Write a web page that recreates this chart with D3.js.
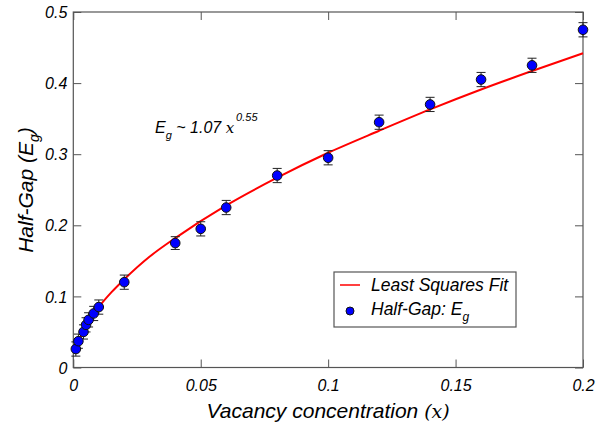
<!DOCTYPE html>
<html>
<head>
<meta charset="utf-8">
<script src="https://cdn.jsdelivr.net/npm/d3@7"></script>
<style>
  html, body { margin: 0; padding: 0; background: #fff; }
  svg { display: block; }
  text { font-family: "Liberation Sans", Arial, sans-serif; font-style: italic; fill: #000; }
</style>
</head>
<body>
<svg id="chart" width="598" height="430"></svg>
<script>
// Data
const vacancy = [0.001, 0.002, 0.004, 0.005, 0.006, 0.008, 0.010, 0.020, 0.040, 0.050, 0.060, 0.080, 0.100, 0.120, 0.140, 0.160, 0.180, 0.200];
const halfGap = [0.026, 0.037, 0.050, 0.060, 0.067, 0.076, 0.085, 0.120, 0.175, 0.195, 0.225, 0.270, 0.295, 0.345, 0.370, 0.405, 0.425, 0.475];
const errors  = [0.010, 0.010, 0.010, 0.010, 0.010, 0.010, 0.010, 0.010, 0.009, 0.010, 0.010, 0.010, 0.010, 0.010, 0.010, 0.010, 0.010, 0.010];
// Least squares fit curve
const fitX = [0.001, 0.002, 0.003, 0.005, 0.007, 0.010, 0.015, 0.020, 0.030, 0.040, 0.060, 0.080, 0.100, 0.120, 0.140, 0.160, 0.180, 0.200];
const fitY = [0.024, 0.035, 0.044, 0.058, 0.070, 0.085, 0.106, 0.124, 0.156, 0.182, 0.228, 0.267, 0.302, 0.333, 0.363, 0.391, 0.417, 0.442];
const xTicks = [0, 0.05, 0.1, 0.15, 0.2];
const xTickLabels = ["0", "0.05", "0.1", "0.15", "0.2"];
const xMinor = [0.025, 0.075, 0.125, 0.175];
const yTicks = [0, 0.1, 0.2, 0.3, 0.4, 0.5];
const yTickLabels = ["0", "0.1", "0.2", "0.3", "0.4", "0.5"];
const yMinor = [0.05, 0.15, 0.25, 0.35, 0.45];

const svg = d3.select("#chart");
const L = 73.3, R = 583, T = 12, B = 367.5;
const x = d3.scaleLinear().domain([0, 0.2]).range([L, R]);
const y = d3.scaleLinear().domain([0, 0.5]).range([B, T]);
const frame = "#555";

// Axes with inward ticks on all sides
function tickAxis(axisFn, scale, vals, len, fmt) {
  return axisFn(scale).tickValues(vals).tickSizeInner(-len).tickSizeOuter(0).tickFormat(fmt);
}
const none = () => "";
const gB = svg.append("g").attr("transform", `translate(0,${B})`);
gB.call(tickAxis(d3.axisBottom, x, xMinor, 5, none));
gB.call(tickAxis(d3.axisBottom, x, xTicks, 8, (d, i) => xTickLabels[i]));
const gT = svg.append("g").attr("transform", `translate(0,${T})`);
gT.call(tickAxis(d3.axisTop, x, xMinor, 5, none));
gT.call(tickAxis(d3.axisTop, x, xTicks, 8, none));
const gL = svg.append("g").attr("transform", `translate(${L},0)`);
gL.call(tickAxis(d3.axisLeft, y, yMinor, 5, none));
gL.call(tickAxis(d3.axisLeft, y, yTicks, 8, (d, i) => yTickLabels[i]));
const gR = svg.append("g").attr("transform", `translate(${R},0)`);
gR.call(tickAxis(d3.axisRight, y, yMinor, 5, none));
gR.call(tickAxis(d3.axisRight, y, yTicks, 8, none));

svg.selectAll(".domain").remove();
svg.selectAll(".tick line").attr("stroke", frame).attr("stroke-width", 1);
gB.selectAll(".tick text").attr("y", 12).attr("dy", "0.71em")
  .style("font-size", "16px").style("font-family", "Liberation Sans, Arial, sans-serif").style("font-style", "italic");
gL.selectAll(".tick text").attr("x", -6).attr("dy", "0.35em")
  .style("font-size", "16px").style("font-family", "Liberation Sans, Arial, sans-serif").style("font-style", "italic");

svg.append("rect").attr("x", L).attr("y", T).attr("width", R - L).attr("height", B - T)
  .attr("fill", "none").attr("stroke", frame).attr("stroke-width", 1.2);

// Fit line
const line = d3.line().x((d, i) => x(fitX[i])).y((d, i) => y(fitY[i])).curve(d3.curveMonotoneX);
svg.append("path").datum(fitX).attr("d", line)
  .attr("fill", "none").attr("stroke", "#ff0000").attr("stroke-width", 2);

// Error bars
const eb = svg.append("g").attr("stroke", "#222").attr("stroke-width", 1);
vacancy.forEach((v, i) => {
  const cx = x(v), y1 = y(halfGap[i] - errors[i]), y2 = y(halfGap[i] + errors[i]);
  eb.append("line").attr("x1", cx).attr("x2", cx).attr("y1", y1).attr("y2", y2);
  eb.append("line").attr("x1", cx - 4.5).attr("x2", cx + 4.5).attr("y1", y1).attr("y2", y1);
  eb.append("line").attr("x1", cx - 4.5).attr("x2", cx + 4.5).attr("y1", y2).attr("y2", y2);
});

// Points
svg.append("g").selectAll("circle").data(vacancy).join("circle")
  .attr("cx", d => x(d)).attr("cy", (d, i) => y(halfGap[i])).attr("r", 4.8)
  .attr("fill", "#0000ff").attr("stroke", "#111").attr("stroke-width", 1);

// Axis titles
const xt = svg.append("text").attr("x", (L + R) / 2).attr("y", 418).attr("text-anchor", "middle")
  .style("font-size", "21px");
xt.append("tspan").text("Vacancy concentration ");
xt.append("tspan").style("font-family", "DejaVu Serif, serif").style("font-size", "19px").text("(x)");

const yt = svg.append("text").attr("transform", "translate(33,190) rotate(-90)").attr("text-anchor", "middle")
  .style("font-size", "21px");
yt.append("tspan").text("Half-Gap (E");
yt.append("tspan").attr("dy", 6).style("font-size", "14px").text("g");
yt.append("tspan").attr("dy", -6).text(")");

// Annotation
const an = svg.append("text").attr("x", 155).attr("y", 133).style("font-size", "16px");
an.append("tspan").text("E");
an.append("tspan").attr("dy", 6).style("font-size", "11px").text("g");
an.append("tspan").attr("dy", -6).text(" ~ 1.07 ");
an.append("tspan").style("font-family", "DejaVu Serif, serif").style("font-size", "15px").text("x");
an.append("tspan").attr("dy", -12).attr("dx", 2).style("font-size", "11px").text("0.55");

// Legend
const lg = svg.append("g");
lg.append("rect").attr("x", 334).attr("y", 272).attr("width", 182).attr("height", 55)
  .attr("fill", "#fff").attr("stroke", frame).attr("stroke-width", 1.2);
lg.append("line").attr("x1", 340).attr("x2", 360).attr("y1", 285).attr("y2", 285)
  .attr("stroke", "#ff0000").attr("stroke-width", 1.5);
lg.append("text").attr("x", 371).attr("y", 291).style("font-size", "17.5px").text("Least Squares Fit");
lg.append("circle").attr("cx", 350).attr("cy", 311).attr("r", 4)
  .attr("fill", "#0000ff").attr("stroke", "#111").attr("stroke-width", 1);
const lt = lg.append("text").attr("x", 371).attr("y", 315).style("font-size", "17.5px");
lt.append("tspan").text("Half-Gap: E");
lt.append("tspan").attr("dy", 6).style("font-size", "12px").text("g");
</script>
</body>
</html>
